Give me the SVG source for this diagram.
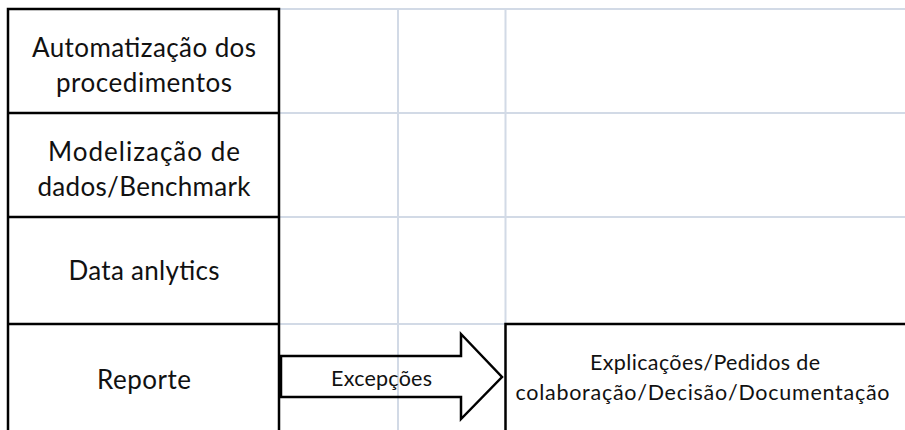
<svg xmlns="http://www.w3.org/2000/svg" width="905" height="430" viewBox="0 0 905 430">
  <style>
    .grid { stroke: #D2DAE6; stroke-width: 2; fill: none; }
    .edge { stroke: #000; stroke-width: 2.5; fill: none; }
    .lbl { font-family: Lato, "Liberation Sans", sans-serif; font-size: 26px; fill: #111; text-anchor: middle; }
    .sm { font-family: Lato, "Liberation Sans", sans-serif; font-size: 21.5px; fill: #111; text-anchor: middle; }
  </style>
  <rect width="905" height="430" fill="#fff"/>

  <!-- background cell grid -->
  <g id="grid">
    <line class="grid" x1="279" y1="9" x2="905" y2="9"/>
    <line class="grid" x1="279" y1="113" x2="905" y2="113"/>
    <line class="grid" x1="279" y1="217" x2="905" y2="217"/>
    <line class="grid" x1="279" y1="324" x2="505" y2="324"/>
    <line class="grid" x1="398" y1="9" x2="398" y2="430"/>
    <line class="grid" x1="505.5" y1="9" x2="505.5" y2="324"/>
  </g>

  <!-- left column of activities -->
  <g id="automatizacao">
    <path class="edge" d="M8,113 V9 H279 V113"/>
    <text class="lbl" x="144" y="56.5" textLength="224">Automatização dos</text>
    <text class="lbl" x="144" y="91.5" textLength="176">procedimentos</text>
  </g>
  <g id="modelizacao">
    <path class="edge" d="M8,113 H279 M8,113 V217 M279,113 V217"/>
    <text class="lbl" x="144" y="160.5" textLength="192">Modelização de</text>
    <text class="lbl" x="144" y="195.5" textLength="213">dados/Benchmark</text>
  </g>
  <g id="data-analytics">
    <path class="edge" d="M8,217 H279 M8,217 V324 M279,217 V324"/>
    <text class="lbl" x="144" y="280" textLength="151">Data anlytics</text>
  </g>
  <g id="reporte">
    <path class="edge" d="M8,324 H279 M8,324 V432 M279,324 V432"/>
    <text class="lbl" x="144" y="389" textLength="94">Reporte</text>
  </g>

  <!-- outcome box -->
  <g id="resultado">
    <path class="edge" d="M505.5,432 V324 H907"/>
    <text class="sm" x="705" y="370" textLength="230">Explicações/Pedidos de</text>
    <text class="sm" x="702.5" y="400" textLength="374">colaboração/Decisão/Documentação</text>
  </g>

  <!-- block arrow between Reporte and the outcome box -->
  <g id="connectors">
    <path class="edge" d="M281,356 H461 V334 L502,377 L461,419 V397 H281 Z"/>
    <text class="sm" x="381.5" y="386" textLength="101">Excepções</text>
  </g>
</svg>
